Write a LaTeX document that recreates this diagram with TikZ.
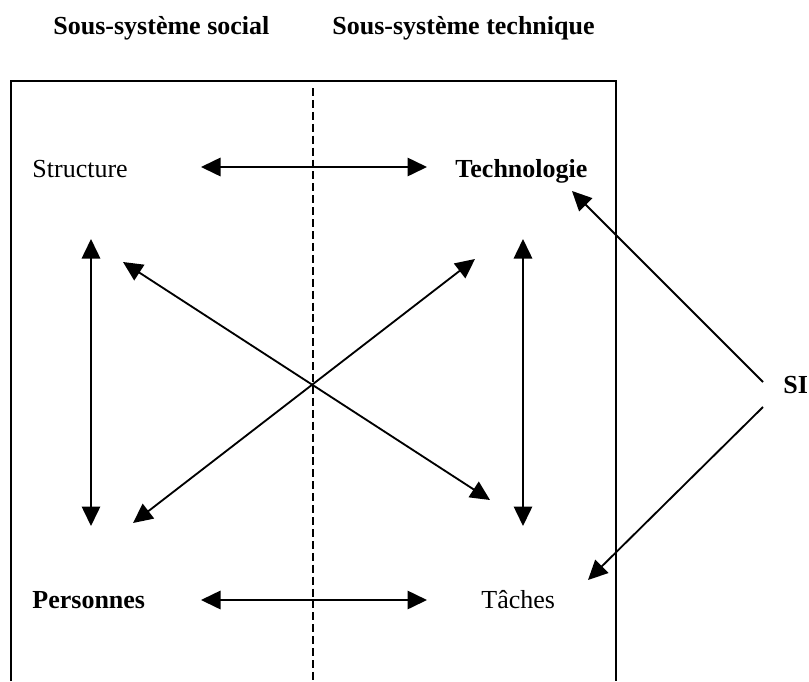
\documentclass[tikz,border=0pt]{standalone}
\usepackage{fontspec}
\setmainfont{Liberation Serif}
\usetikzlibrary{arrows.meta}
\begin{document}
\begin{tikzpicture}[x=0.4615pt, y=-0.4615pt, font=\fontsize{12}{14}\selectfont,
	lbl/.style={anchor=base west, inner sep=0pt},
	link/.style={line width=0.85pt, {Triangle[length=9pt,width=8.5pt]}-{Triangle[length=9pt,width=8.5pt]}},
	pointer/.style={line width=0.85pt, -{Triangle[length=9pt,width=8.5pt]}}]
	\useasboundingbox (0,0) rectangle (809,681);
	\node[lbl] (social) at (53,34) {\textbf{Sous-système social}};
	\node[lbl] (technique) at (332,34) {\textbf{Sous-système technique}};
	\draw[line width=1pt] (11,681) -- (11,81) -- (616,81) -- (616,681);
	\draw[line width=0.8pt, dash pattern=on 3.7pt off 1.8pt] (313,88) -- (313,681);
	\node[lbl] (structure) at (32,177) {Structure};
	\node[lbl] (technologie) at (455,177) {\textbf{Technologie}};
	\node[lbl] (personnes) at (32,608) {\textbf{Personnes}};
	\node[lbl] (taches) at (481,608) {Tâches};
	\node[lbl] (si) at (783,393) {\textbf{SI}};
	\coordinate (sl) at (201,167); \coordinate (sr) at (427,167);
	\coordinate (pl) at (201,600); \coordinate (pr) at (427,600);
	\coordinate (vl1) at (91,239); \coordinate (vl2) at (91,526);
	\coordinate (vr1) at (523,239); \coordinate (vr2) at (523,526);
	\coordinate (da1) at (123,262); \coordinate (da2) at (490,500);
	\coordinate (db1) at (475,259); \coordinate (db2) at (133,523);
	\coordinate (si1) at (763,382); \coordinate (si2) at (763,407);
	\coordinate (tt) at (572,191); \coordinate (tc) at (588,580);
	\draw[link] (sl) -- (sr);
	\draw[link] (pl) -- (pr);
	\draw[link] (vl1) -- (vl2);
	\draw[link] (vr1) -- (vr2);
	\draw[link] (da1) -- (da2);
	\draw[link] (db1) -- (db2);
	\draw[pointer] (si1) -- (tt);
	\draw[pointer] (si2) -- (tc);
\end{tikzpicture}
\end{document}
